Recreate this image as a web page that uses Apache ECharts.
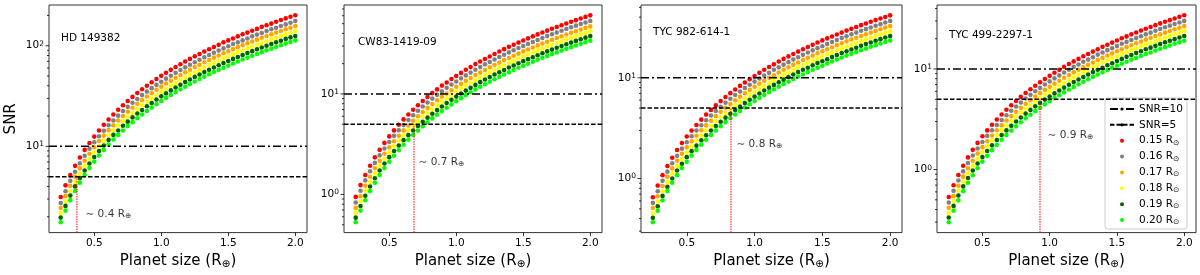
<!DOCTYPE html>
<html><head><meta charset="utf-8">
<script src="https://cdn.jsdelivr.net/npm/echarts@6/dist/echarts.min.js"></script>
<style>html,body{margin:0;padding:0;background:#fff}#c{width:1200px;height:275px}</style>
</head><body><div id="c"></div>
<script>
// ---------------- data ----------------
const planetSize = [0.25,0.2857,0.3214,0.3571,0.3929,0.4286,0.4643,0.5,0.5357,0.5714,0.6071,0.6429,0.6786,0.7143,0.75,0.7857,0.8214,0.8571,0.8929,0.9286,0.9643,1.0,1.0357,1.0714,1.1071,1.1429,1.1786,1.2143,1.25,1.2857,1.3214,1.3571,1.3929,1.4286,1.4643,1.5,1.5357,1.5714,1.6071,1.6429,1.6786,1.7143,1.75,1.7857,1.8214,1.8571,1.8929,1.9286,1.9643,2.0];
const starRadii = ['0.15','0.16','0.17','0.18','0.19','0.20'];
const starNames = ['HD 149382','CW83-1419-09','TYC 982-614-1','TYC 499-2297-1'];

// HD 149382
const p1_015 = [3.14,4.10,5.18,6.40,7.74,9.22,10.8,12.5,14.4,16.4,18.5,20.7,23.1,25.6,28.2,31.0,33.9,36.9,40.0,43.3,46.7,50.2,53.8,57.6,61.5,65.5,69.7,74.0,78.4,82.9,87.6,92.4,97.3,102,108,113,118,124,130,135,141,147,154,160,166,173,180,187,194,201];
const p1_016 = [2.74,3.58,4.54,5.60,6.78,8.06,9.46,11.0,12.6,14.3,16.2,18.1,20.2,22.4,24.7,27.1,29.6,32.3,35.0,37.9,40.8,43.9,47.1,50.4,53.8,57.3,61.0,64.7,68.6,72.6,76.7,80.9,85.2,89.6,94.1,98.8,104,108,113,118,124,129,134,140,146,151,157,163,169,176];
const p1_017 = [2.45,3.20,4.05,5.00,6.05,7.20,8.45,9.80,11.3,12.8,14.5,16.2,18.1,20.0,22.1,24.2,26.5,28.8,31.3,33.8,36.5,39.2,42.1,45.0,48.1,51.2,54.5,57.8,61.3,64.8,68.5,72.2,76.1,80.0,84.1,88.2,92.5,96.8,101,106,110,115,120,125,130,135,140,146,151,157];
const p1_018 = [2.18,2.85,3.60,4.45,5.38,6.41,7.52,8.72,10.0,11.4,12.9,14.4,16.1,17.8,19.6,21.5,23.5,25.6,27.8,30.1,32.4,34.9,37.4,40.0,42.8,45.6,48.5,51.4,54.5,57.7,60.9,64.3,67.7,71.2,74.8,78.5,82.3,86.2,90.1,94.2,98.3,103,107,111,116,120,125,130,135,140];
const p1_019 = [1.96,2.56,3.24,4.00,4.84,5.76,6.76,7.84,9.00,10.2,11.6,13.0,14.4,16.0,17.6,19.4,21.2,23.0,25.0,27.0,29.2,31.4,33.6,36.0,38.4,41.0,43.6,46.2,49.0,51.8,54.8,57.8,60.8,64.0,67.2,70.6,74.0,77.4,81.0,84.6,88.4,92.2,96.0,100,104,108,112,117,121,125];
const p1_020 = [1.76,2.30,2.92,3.60,4.36,5.18,6.08,7.06,8.10,9.22,10.4,11.7,13.0,14.4,15.9,17.4,19.0,20.7,22.5,24.3,26.2,28.2,30.3,32.4,34.6,36.9,39.2,41.6,44.1,46.7,49.3,52.0,54.8,57.6,60.5,63.5,66.6,69.7,72.9,76.2,79.5,82.9,86.4,90.0,93.6,97.3,101,105,109,113];

// CW83-1419-09
const p2_015 = [0.946,1.24,1.56,1.93,2.34,2.78,3.26,3.78,4.34,4.94,5.58,6.25,6.97,7.72,8.51,9.34,10.2,11.1,12.1,13.0,14.1,15.1,16.2,17.4,18.5,19.8,21.0,22.3,23.6,25.0,26.4,27.9,29.4,30.9,32.4,34.0,35.7,37.4,39.1,40.8,42.6,44.5,46.3,48.3,50.2,52.2,54.2,56.3,58.4,60.5];
const p2_016 = [0.833,1.09,1.38,1.70,2.06,2.45,2.87,3.33,3.83,4.35,4.91,5.51,6.14,6.80,7.50,8.23,8.99,9.79,10.6,11.5,12.4,13.3,14.3,15.3,16.3,17.4,18.5,19.7,20.8,22.0,23.3,24.5,25.9,27.2,28.6,30.0,31.4,32.9,34.4,36.0,37.6,39.2,40.8,42.5,44.2,46.0,47.8,49.6,51.4,53.3];
const p2_017 = [0.735,0.96,1.22,1.50,1.82,2.16,2.54,2.94,3.38,3.84,4.34,4.86,5.42,6.00,6.62,7.26,7.94,8.64,9.38,10.1,10.9,11.8,12.6,13.5,14.4,15.4,16.3,17.3,18.4,19.4,20.5,21.7,22.8,24.0,25.2,26.5,27.7,29.0,30.4,31.7,33.1,34.6,36.0,37.5,39.0,40.6,42.1,43.7,45.4,47.0];
const p2_018 = [0.657,0.858,1.09,1.34,1.62,1.93,2.26,2.63,3.02,3.43,3.87,4.34,4.84,5.36,5.91,6.49,7.09,7.72,8.38,9.06,9.77,10.5,11.3,12.1,12.9,13.7,14.6,15.5,16.4,17.4,18.3,19.3,20.4,21.4,22.5,23.6,24.8,25.9,27.1,28.4,29.6,30.9,32.2,33.5,34.9,36.2,37.6,39.1,40.5,42.0];
const p2_019 = [0.588,0.768,0.972,1.20,1.45,1.73,2.03,2.35,2.70,3.07,3.47,3.89,4.33,4.80,5.29,5.81,6.35,6.91,7.50,8.11,8.75,9.41,10.1,10.8,11.5,12.3,13.1,13.9,14.7,15.6,16.4,17.3,18.3,19.2,20.2,21.2,22.2,23.2,24.3,25.4,26.5,27.6,28.8,30.0,31.2,32.4,33.7,35.0,36.3,37.6];
const p2_020 = [0.529,0.691,0.875,1.08,1.31,1.56,1.83,2.12,2.43,2.76,3.12,3.50,3.90,4.32,4.76,5.23,5.71,6.22,6.75,7.30,7.87,8.47,9.08,9.72,10.4,11.1,11.8,12.5,13.2,14.0,14.8,15.6,16.4,17.3,18.2,19.1,20.0,20.9,21.9,22.9,23.9,24.9,25.9,27.0,28.1,29.2,30.3,31.5,32.7,33.9];

// TYC 982-614-1
const p3_015 = [0.652,0.851,1.08,1.33,1.61,1.92,2.25,2.61,2.99,3.40,3.84,4.31,4.80,5.32,5.87,6.44,7.04,7.66,8.31,8.99,9.70,10.4,11.2,12.0,12.8,13.6,14.5,15.4,16.3,17.2,18.2,19.2,20.2,21.3,22.4,23.5,24.6,25.7,26.9,28.1,29.4,30.6,31.9,33.3,34.6,36.0,37.4,38.8,40.2,41.7];
const p3_016 = [0.573,0.749,0.948,1.17,1.42,1.68,1.98,2.29,2.63,3.00,3.38,3.79,4.22,4.68,5.16,5.66,6.19,6.74,7.31,7.91,8.53,9.17,9.84,10.5,11.2,12.0,12.7,13.5,14.3,15.2,16.0,16.9,17.8,18.7,19.7,20.6,21.6,22.7,23.7,24.8,25.8,27.0,28.1,29.3,30.4,31.6,32.9,34.1,35.4,36.7];
const p3_017 = [0.510,0.666,0.842,1.04,1.26,1.50,1.76,2.04,2.34,2.66,3.01,3.37,3.75,4.16,4.59,5.03,5.50,5.99,6.50,7.03,7.58,8.15,8.75,9.36,9.99,10.6,11.3,12.0,12.7,13.5,14.2,15.0,15.8,16.6,17.5,18.3,19.2,20.1,21.1,22.0,23.0,24.0,25.0,26.0,27.1,28.1,29.2,30.3,31.5,32.6];
const p3_018 = [0.453,0.592,0.749,0.925,1.12,1.33,1.56,1.81,2.08,2.37,2.67,3.00,3.34,3.70,4.08,4.48,4.89,5.33,5.78,6.25,6.74,7.25,7.78,8.33,8.89,9.47,10.1,10.7,11.3,12.0,12.7,13.4,14.1,14.8,15.5,16.3,17.1,17.9,18.7,19.6,20.4,21.3,22.2,23.1,24.1,25.0,26.0,27.0,28.0,29.0];
const p3_019 = [0.407,0.531,0.672,0.830,1.00,1.20,1.40,1.63,1.87,2.12,2.40,2.69,3.00,3.32,3.66,4.02,4.39,4.78,5.19,5.61,6.05,6.51,6.98,7.47,7.98,8.50,9.04,9.59,10.2,10.8,11.4,12.0,12.6,13.3,14.0,14.6,15.3,16.1,16.8,17.6,18.3,19.1,19.9,20.8,21.6,22.4,23.3,24.2,25.1,26.0];
const p3_020 = [0.368,0.480,0.608,0.750,0.908,1.08,1.27,1.47,1.69,1.92,2.17,2.43,2.71,3.00,3.31,3.63,3.97,4.32,4.69,5.07,5.47,5.88,6.31,6.75,7.21,7.68,8.17,8.67,9.19,9.72,10.3,10.8,11.4,12.0,12.6,13.2,13.9,14.5,15.2,15.9,16.6,17.3,18.0,18.8,19.5,20.3,21.1,21.9,22.7,23.5];

// TYC 499-2297-1
const p4_015 = [0.534,0.698,0.883,1.09,1.32,1.57,1.84,2.14,2.45,2.79,3.15,3.53,3.93,4.36,4.81,5.28,5.77,6.28,6.81,7.37,7.95,8.55,9.17,9.81,10.5,11.2,11.9,12.6,13.4,14.1,14.9,15.7,16.6,17.4,18.3,19.2,20.2,21.1,22.1,23.1,24.1,25.1,26.2,27.3,28.4,29.5,30.6,31.8,33.0,34.2];
const p4_016 = [0.470,0.614,0.778,0.960,1.16,1.38,1.62,1.88,2.16,2.46,2.77,3.11,3.47,3.84,4.23,4.65,5.08,5.53,6.00,6.49,7.00,7.53,8.07,8.64,9.23,9.83,10.5,11.1,11.8,12.4,13.1,13.9,14.6,15.4,16.1,16.9,17.8,18.6,19.4,20.3,21.2,22.1,23.0,24.0,25.0,26.0,27.0,28.0,29.0,30.1];
const p4_017 = [0.417,0.544,0.689,0.850,1.03,1.22,1.44,1.67,1.91,2.18,2.46,2.75,3.07,3.40,3.75,4.11,4.50,4.90,5.31,5.75,6.20,6.66,7.15,7.65,8.17,8.70,9.26,9.83,10.4,11.0,11.6,12.3,12.9,13.6,14.3,15.0,15.7,16.5,17.2,18.0,18.8,19.6,20.4,21.3,22.1,23.0,23.9,24.8,25.7,26.7];
const p4_018 = [0.372,0.486,0.616,0.760,0.920,1.09,1.28,1.49,1.71,1.95,2.20,2.46,2.74,3.04,3.35,3.68,4.02,4.38,4.75,5.14,5.54,5.96,6.39,6.84,7.30,7.78,8.28,8.79,9.31,9.85,10.4,11.0,11.6,12.2,12.8,13.4,14.1,14.7,15.4,16.1,16.8,17.5,18.2,19.0,19.8,20.6,21.3,22.2,23.0,23.8];
const p4_019 = [0.333,0.435,0.551,0.680,0.823,0.979,1.15,1.33,1.53,1.74,1.97,2.20,2.45,2.72,3.00,3.29,3.60,3.92,4.25,4.60,4.96,5.33,5.72,6.12,6.53,6.96,7.41,7.86,8.33,8.81,9.31,9.82,10.3,10.9,11.4,12.0,12.6,13.2,13.8,14.4,15.0,15.7,16.3,17.0,17.7,18.4,19.1,19.8,20.6,21.3];
const p4_020 = [0.299,0.390,0.494,0.610,0.738,0.878,1.03,1.20,1.37,1.56,1.76,1.98,2.20,2.44,2.69,2.95,3.23,3.51,3.81,4.12,4.45,4.78,5.13,5.49,5.86,6.25,6.64,7.05,7.47,7.91,8.35,8.81,9.28,9.76,10.3,10.8,11.3,11.8,12.4,12.9,13.5,14.1,14.6,15.3,15.9,16.5,17.1,17.8,18.5,19.1];

const snrLevels = [10, 5];
const limitX = [0.371, 0.685, 0.826, 0.928];           // red dotted line
const limitLabel = ['0.4', '0.7', '0.8', '0.9'];
const labelX = [0.431, 0.715, 0.863, 0.980];
const labelY = [2.13, 2.11, 2.19, 2.18];

// axis ranges and ticks
const xMin = 0.1625, xMax = 2.0875;
const xTicks = [0.5, 1.0, 1.5, 2.0];
const yMin = [1.39, 0.4175, 0.2906, 0.236];
const yMax = [254, 76.7, 52.8, 43.3];
const yMajor = [[10, 100], [1, 10], [1, 10], [1, 10]];
const yMinor = [
  [2,3,4,5,6,7,8,9,20,30,40,50,60,70,80,90,200],
  [0.5,0.6,0.7,0.8,0.9,2,3,4,5,6,7,8,9,20,30,40,50,60,70],
  [0.3,0.4,0.5,0.6,0.7,0.8,0.9,2,3,4,5,6,7,8,9,20,30,40,50],
  [0.3,0.4,0.5,0.6,0.7,0.8,0.9,2,3,4,5,6,7,8,9,20,30,40]
];

// ---------------- build chart ----------------
const panelData = [
  [p1_015, p1_016, p1_017, p1_018, p1_019, p1_020],
  [p2_015, p2_016, p2_017, p2_018, p2_019, p2_020],
  [p3_015, p3_016, p3_017, p3_018, p3_019, p3_020],
  [p4_015, p4_016, p4_017, p4_018, p4_019, p4_020]
];
const colors = ['#ff0000', '#808080', '#ffa500', '#ffff00', '#006400', '#00ff00'];
const gridBoxes = [
  {left: 49, top: 5, width: 258, height: 232},
  {left: 344, top: 5, width: 258, height: 232},
  {left: 641, top: 5, width: 261, height: 232},
  {left: 937, top: 5, width: 259, height: 232}
];
const titlePos = [[61, 33], [358, 37], [653, 27], [949, 30]];
const FONT = 'DejaVu Sans';

function powLabel(v) {
  const e = Math.log10(v);
  const r = Math.round(e);
  if (Math.abs(e - r) > 1e-6) return '';
  return '{b|10}{p|' + r + '}';
}

const subRich = {
  a: {fontSize: 10.5, lineHeight: 12, color: '#000', fontFamily: FONT},
  s: {fontSize: 7.5, lineHeight: 6, verticalAlign: 'bottom', color: '#000', fontFamily: FONT}
};

const grid = [], xAxis = [], yAxis = [], series = [], title = [];
for (let i = 0; i < 4; i++) {
  grid.push(Object.assign({show: true, borderColor: '#333', borderWidth: 1, backgroundColor: 'transparent'}, gridBoxes[i]));
  title.push({text: starNames[i], left: titlePos[i][0], top: titlePos[i][1], padding: 0,
    textStyle: {fontSize: 10.5, fontWeight: 'normal', color: '#000', fontFamily: FONT}});
  xAxis.push({
    type: 'value', gridIndex: i, min: xMin, max: xMax,
    axisLine: {show: false}, splitLine: {show: false},
    axisTick: {show: true, length: 3.5, customValues: xTicks, lineStyle: {color: '#000', width: 0.8}},
    axisLabel: {customValues: xTicks, formatter: v => v.toFixed(1), fontSize: 10.5, color: '#000', margin: 5, fontFamily: FONT},
    name: '{a|Planet size (R}{s|⊕}{a|)}', nameLocation: 'middle', nameGap: 19,
    nameTextStyle: {rich: {
      a: {fontSize: 15, lineHeight: 18, color: '#000', fontFamily: FONT},
      s: {fontSize: 10.5, lineHeight: 9, verticalAlign: 'bottom', color: '#000', fontFamily: FONT}
    }}
  });
  yAxis.push({
    type: 'log', logBase: 10, gridIndex: i, min: yMin[i], max: yMax[i],
    axisLine: {show: false}, splitLine: {show: false}, axisTick: {show: false}, minorTick: {show: false},
    axisLabel: {formatter: powLabel, margin: 5, showMinLabel: false, showMaxLabel: false,
      rich: {
        b: {fontSize: 10.5, lineHeight: 12, color: '#000', fontFamily: FONT},
        p: {fontSize: 7.5, lineHeight: 6, verticalAlign: 'top', color: '#000', fontFamily: FONT}
      }},
    name: i === 0 ? 'SNR' : '', nameLocation: 'middle', nameGap: 30,
    nameTextStyle: {fontSize: 15, color: '#000', fontFamily: FONT}
  });
  // scatter series
  for (let s = 0; s < 6; s++) {
    const vals = panelData[i][s];
    series.push({
      type: 'scatter', name: starRadii[s], xAxisIndex: i, yAxisIndex: i,
      data: planetSize.map((x, k) => [x, vals[k]]),
      symbol: 'circle', symbolSize: 4.6, itemStyle: {color: colors[s], opacity: 1},
      silent: true, z: 2
    });
  }
  // SNR thresholds
  series.push({type: 'line', name: 'SNR=10', xAxisIndex: i, yAxisIndex: i, symbol: 'none', silent: true, z: 4,
    data: [[xMin, snrLevels[0]], [xMax, snrLevels[0]]],
    lineStyle: {color: '#000', width: 1.5, type: [8, 3, 2, 3]}, itemStyle: {color: '#000'}});
  series.push({type: 'line', name: 'SNR=5', xAxisIndex: i, yAxisIndex: i, symbol: 'none', silent: true, z: 4,
    data: [[xMin, snrLevels[1]], [xMax, snrLevels[1]]],
    lineStyle: {color: '#000', width: 1.5, type: [4.5, 2]}, itemStyle: {color: '#000'}});
  // limit line
  series.push({type: 'line', name: 'limit' + i, xAxisIndex: i, yAxisIndex: i, symbol: 'none', silent: true, z: 3,
    data: [[limitX[i], yMin[i]], [limitX[i], snrLevels[1]]],
    lineStyle: {color: '#ff0000', width: 1, type: [1.5, 1]}});
  // annotation
  series.push({type: 'scatter', name: 'note' + i, xAxisIndex: i, yAxisIndex: i, silent: true, z: 5,
    data: [[labelX[i], labelY[i]]], symbolSize: 1, itemStyle: {color: 'rgba(0,0,0,0)'},
    label: {show: true, position: 'right', distance: 0,
      formatter: '{a|∼ ' + limitLabel[i] + ' R}{s|⊕}', rich: subRich}});
  // y ticks (major + minor) drawn through the axis scale
  series.push({type: 'custom', name: 'yticks' + i, xAxisIndex: i, yAxisIndex: i, silent: true, z: 6,
    encode: {x: 0, y: 1},
    data: yMajor[i].map(v => [xMin, v, 3.5]).concat(yMinor[i].map(v => [xMin, v, 2])),
    renderItem: function (params, api) {
      const p = api.coord([api.value(0), api.value(1)]);
      const L = api.value(2);
      return {type: 'line', shape: {x1: p[0], y1: p[1], x2: p[0] - L, y2: p[1]},
        style: {stroke: '#000', lineWidth: 0.8}};
    }});
}

const chart = echarts.init(document.getElementById('c'), null, {renderer: 'canvas'});
chart.setOption({
  animation: false,
  textStyle: {fontFamily: FONT},
  title: title,
  grid: grid, xAxis: xAxis, yAxis: yAxis, series: series,
  legend: {
    orient: 'vertical', left: 1105, top: 98, padding: [5, 4, 3, 4],
    itemWidth: 24, itemHeight: 4, itemGap: 3.86, selectedMode: false,
    backgroundColor: 'rgba(255,255,255,0.8)', borderColor: '#cccccc', borderWidth: 1, borderRadius: 3,
    data: ['SNR=10', 'SNR=5'].concat(starRadii),
    formatter: n => n.indexOf('SNR') === 0 ? '{a|' + n + '}' : '{a|' + n + ' R}{s|⊙}',
    textStyle: {color: '#000', fontSize: 10.5, lineHeight: 12, rich: subRich}
  }
});
</script></body></html>
